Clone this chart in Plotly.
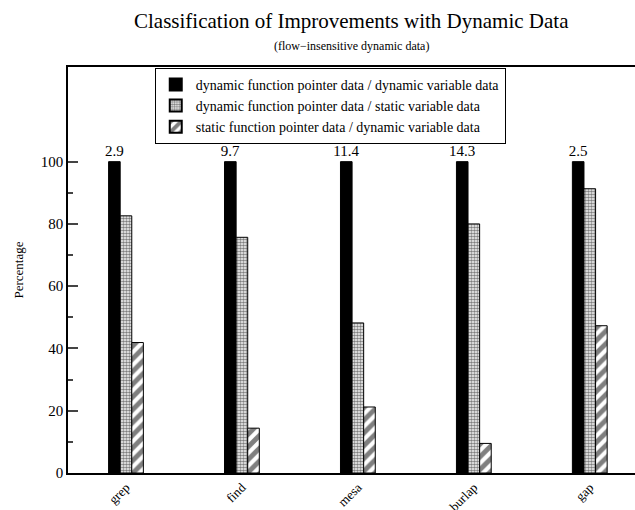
import plotly.graph_objects as go

categories = ["grep", "find", "mesa", "burlap", "gap"]
dyn_dyn = [100, 100, 100, 100, 100]
dyn_static = [82.6, 75.7, 48.2, 80.0, 91.3]
static_dyn = [41.9, 14.4, 21.2, 9.5, 47.3]
top_labels = ["2.9", "9.7", "11.4", "14.3", "2.5"]
series_names = [
    "dynamic function pointer data / dynamic variable data",
    "dynamic function pointer data / static variable data",
    "static function pointer data / dynamic variable data",
]

FONT = "Liberation Serif"

fig = go.Figure()
fig.add_trace(go.Bar(
    x=categories, y=dyn_dyn, name=series_names[0],
    marker=dict(color="black", line=dict(color="black", width=1)),
    text=top_labels, textposition="outside", cliponaxis=False,
    constraintext="none",
    textfont=dict(family=FONT, size=15, color="black"),
))
fig.add_trace(go.Bar(
    x=categories, y=dyn_static, name=series_names[1],
    marker=dict(color="white", line=dict(color="black", width=1),
                pattern=dict(shape=".", size=3, solidity=0.6,
                             fgcolor="black", bgcolor="white")),
))
fig.add_trace(go.Bar(
    x=categories, y=static_dyn, name=series_names[2],
    marker=dict(color="white", line=dict(color="black", width=1),
                pattern=dict(shape="/", size=9, solidity=0.55,
                             fgcolor="black", bgcolor="white")),
))

fig.update_layout(
    width=635, height=510,
    margin=dict(l=68, r=0, t=67, b=37),
    paper_bgcolor="white", plot_bgcolor="white",
    barmode="group", bargap=0.7, bargroupgap=0,
    font=dict(family=FONT, size=15, color="black"),
    showlegend=True,
    legend=dict(x=0.153, y=0.998, xanchor="left", yanchor="top",
                bordercolor="black", borderwidth=1, bgcolor="white",
                font=dict(family=FONT, size=14), tracegroupgap=0,
                itemsizing="constant"),
    annotations=[
        dict(text="Classification of Improvements with Dynamic Data",
             x=0.5, y=1, xref="paper", yref="paper", yanchor="bottom",
             yshift=32, showarrow=False,
             font=dict(family=FONT, size=21, color="black")),
        dict(text="(flow\u2212insensitive dynamic data)",
             x=0.5, y=1, xref="paper", yref="paper", yanchor="bottom",
             yshift=12, showarrow=False,
             font=dict(family=FONT, size=12, color="black")),
    ],
)

fig.update_xaxes(
    range=[-0.5, 4.39], showline=True, linecolor="black", linewidth=1.5,
    mirror=True, ticks="", tickangle=-45, automargin=False,
    tickfont=dict(family=FONT, size=13), showgrid=False,
)
fig.update_yaxes(
    range=[0, 130.4], showline=True, linecolor="black", linewidth=1.5,
    mirror=False, ticks="inside", ticklen=10, tickwidth=1.5,
    tickvals=[0, 20, 40, 60, 80, 100], showgrid=False, zeroline=False,
    minor=dict(ticks="inside", ticklen=5, tickwidth=1.5,
               tickvals=[10, 30, 50, 70, 90], showgrid=False),
    title=dict(text="Percentage", font=dict(family=FONT, size=13), standoff=14),
    automargin=False, tickfont=dict(family=FONT, size=15),
)

fig.write_html("out.html")
